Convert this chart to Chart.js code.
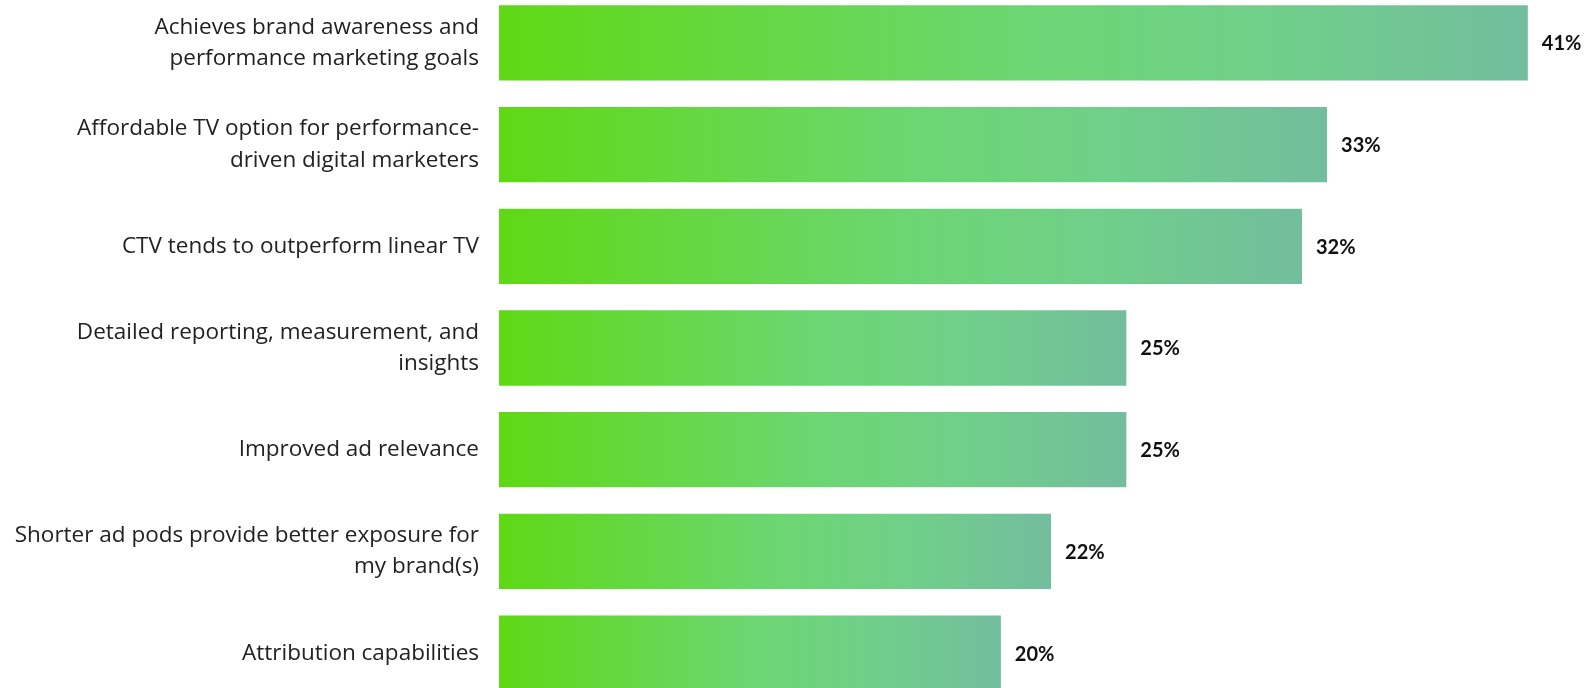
<!DOCTYPE html>
<html>
<head>
<meta charset="utf-8">
<script src="https://cdn.jsdelivr.net/npm/chart.js@4"></script>
<style>
    html, body { margin: 0; padding: 0; background: #fff; overflow: hidden; }
    #wrap { position: absolute; left: 0; top: -8px; width: 1587px; height: 712px; }
</style>
</head>
<body>
<div id="wrap"><canvas id="benefitsChart"></canvas></div>
<script>
// ==================== DATA ====================
const categories = [
    ['Achieves brand awareness and', 'performance marketing goals'],
    ['Affordable TV option for performance-', 'driven digital marketers'],
    'CTV tends to outperform linear TV',
    ['Detailed reporting, measurement, and', 'insights'],
    'Improved ad relevance',
    ['Shorter ad pods provide better exposure for', 'my brand(s)'],
    'Attribution capabilities'
];
const shares = [41, 33, 32, 25, 25, 22, 20];
const axisMax = 43;

// Each bar gets its own left-to-right green fade
function barGradient(context) {
    const chart = context.chart;
    if (!chart.chartArea || context.type !== 'data') return '#66d44a';
    const xs = chart.scales.x;
    const x0 = xs.getPixelForValue(0);
    const x1 = xs.getPixelForValue(context.raw);
    const g = chart.ctx.createLinearGradient(x0, 0, x1, 0);
    g.addColorStop(0, '#5fd915');
    g.addColorStop(0.5, '#6cd672');
    g.addColorStop(0.75, '#70cf8a');
    g.addColorStop(1, '#73bd9e');
    return g;
}

// Draw the "41%" style labels just past the end of each bar
const valueLabels = {
    id: 'valueLabels',
    afterDatasetsDraw(chart) {
        const ctx = chart.ctx;
        const meta = chart.getDatasetMeta(0);
        ctx.save();
        ctx.font = 'bold 20px Lato, "DejaVu Sans", sans-serif';
        ctx.fillStyle = '#111';
        ctx.textAlign = 'left';
        ctx.textBaseline = 'middle';
        meta.data.forEach((bar, i) => {
            ctx.fillText(shares[i] + '%', bar.x + 14, bar.y + 1);
        });
        ctx.restore();
    }
};

new Chart(document.getElementById('benefitsChart').getContext('2d'), {
    type: 'bar',
    data: {
        labels: categories,
        datasets: [{
            data: shares,
            backgroundColor: barGradient,
            borderWidth: 0,
            barPercentage: 0.74,
            categoryPercentage: 1
        }]
    },
    options: {
        indexAxis: 'y',
        responsive: true,
        maintainAspectRatio: false,
        animation: false,
        layout: { padding: { left: 0, right: 9, top: 0, bottom: 0 } },
        plugins: {
            legend: { display: false },
            tooltip: { enabled: false }
        },
        scales: {
            x: {
                display: false,
                min: 0,
                max: axisMax
            },
            y: {
                border: { display: false },
                grid: { display: false },
                ticks: {
                    padding: 12,
                    color: '#222',
                    font: { family: '"Open Sans", Lato, sans-serif', size: 22.5, lineHeight: 1.38 }
                },
                afterFit(scale) {
                    // fixed label column; no extra room for the outer labels
                    scale.width = 499;
                    scale.paddingTop = 0;
                    scale.paddingBottom = 0;
                }
            }
        }
    },
    plugins: [valueLabels]
});
</script>
</body>
</html>
